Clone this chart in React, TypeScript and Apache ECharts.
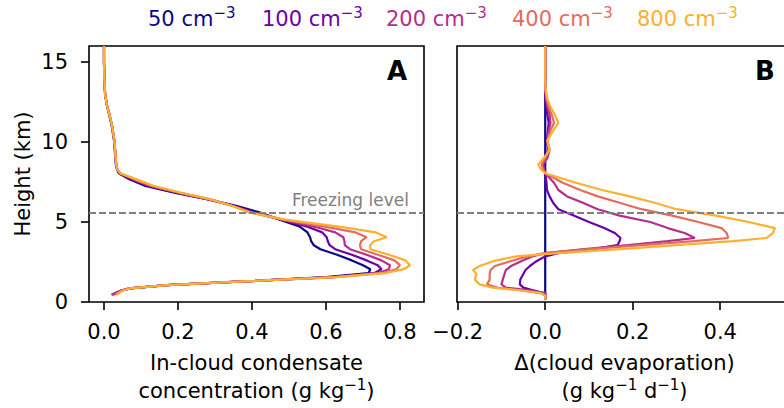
import React, { useEffect, useRef } from "react";
import * as echarts from "echarts";

// ---- Legend / series meta ----
const concentrations = ["50", "100", "200", "400", "800"];
const colors = ["#0d0887", "#6a00a8", "#b42e8d", "#e56b5d", "#fdb030"];

// ---- Panel A: in-cloud condensate (g/kg) vs height (km) ----
const heightsA = [16, 15, 14, 13, 12.3, 11.6, 11, 10.1, 9.2, 8.6, 8.3, 8.05, 7.65, 7.25, 6.8, 6.4, 6.0, 5.6,
  5.15, 4.7, 4.35, 4.05, 3.8, 3.55, 3.3, 2.95, 2.6, 2.3, 2.05, 1.8, 1.55, 1.3, 1.05, 0.85, 0.7, 0.55, 0.45];
const condensate50 = [0.0, 0.0, 0.001, 0.003, 0.008, 0.015, 0.021, 0.027, 0.030, 0.032, 0.035, 0.040, 0.070, 0.112, 0.196, 0.285, 0.36, 0.42,
  0.475, 0.53, 0.55, 0.557, 0.56, 0.567, 0.585, 0.63, 0.67, 0.70, 0.72, 0.715, 0.60, 0.39, 0.17, 0.07, 0.045, 0.03, 0.025];
const condensate100 = [0.0, 0.0, 0.001, 0.003, 0.008, 0.016, 0.022, 0.028, 0.031, 0.033, 0.036, 0.042, 0.076, 0.12, 0.202, 0.285, 0.352, 0.405,
  0.48, 0.55, 0.59, 0.602, 0.605, 0.61, 0.625, 0.67, 0.71, 0.74, 0.75, 0.73, 0.615, 0.39, 0.17, 0.07, 0.045, 0.03, 0.022];
const condensate200 = [0.0, 0.0, 0.001, 0.003, 0.008, 0.016, 0.022, 0.028, 0.031, 0.033, 0.036, 0.042, 0.08, 0.125, 0.206, 0.287, 0.35, 0.40,
  0.48, 0.57, 0.625, 0.647, 0.65, 0.651, 0.665, 0.71, 0.75, 0.773, 0.77, 0.74, 0.62, 0.39, 0.17, 0.068, 0.045, 0.03, 0.02];
const condensate400 = [0.0, 0.0, 0.001, 0.003, 0.008, 0.016, 0.022, 0.028, 0.031, 0.033, 0.036, 0.043, 0.085, 0.13, 0.21, 0.29, 0.348, 0.395,
  0.485, 0.60, 0.68, 0.71, 0.695, 0.692, 0.695, 0.74, 0.785, 0.80, 0.79, 0.75, 0.625, 0.39, 0.17, 0.07, 0.048, 0.035, 0.03];
const condensate800 = [0.0, 0.0, 0.001, 0.003, 0.008, 0.016, 0.022, 0.028, 0.031, 0.033, 0.036, 0.044, 0.09, 0.135, 0.215, 0.292, 0.347, 0.392,
  0.49, 0.64, 0.735, 0.764, 0.73, 0.719, 0.72, 0.77, 0.815, 0.827, 0.81, 0.76, 0.63, 0.39, 0.17, 0.07, 0.05, 0.04, 0.035];

// ---- Panel B: change in cloud evaporation (g/kg/d) vs height (km) ----
const heightsB = [16, 14, 13.3, 12.7, 12.2, 11.7, 11.2, 10.7, 10.1, 9.5, 9.0, 8.6, 8.3, 8.05, 7.45, 7.0, 6.6, 6.2, 5.8, 5.4,
  5.0, 4.62, 4.3, 4.0, 3.8, 3.55, 3.3, 3.05, 2.85, 2.55, 2.25, 2.0, 1.75, 1.4, 1.1, 0.9, 0.75, 0.55, 0.4, 0.15];
const evap50 = [0, 0, 0, 0, 0, 0, 0, 0, 0, 0, 0, 0, 0, 0, 0, 0, 0, 0, 0, 0,
  0, 0, 0, 0, 0, 0, 0, 0, 0, 0, 0, 0, 0, 0, 0, 0, 0, 0, 0, 0];
const evap100 = [0, 0, 0, 0, 0.002, 0.005, 0.008, 0.006, 0.004, 0.006, 0.002, -0.003, -0.002, 0, 0.003, 0.004, 0.01, 0.018, 0.03, 0.065,
  0.1, 0.135, 0.16, 0.172, 0.17, 0.165, 0.11, 0.03, 0.0, -0.02, -0.035, -0.045, -0.05, -0.057, -0.058, -0.05, -0.03, 0, 0, 0];
const evap200 = [0, 0, 0, 0.002, 0.005, 0.01, 0.012, 0.008, 0.005, 0.01, 0.005, -0.005, -0.003, 0, 0.02, 0.03, 0.05, 0.086, 0.12, 0.17,
  0.24, 0.28, 0.32, 0.342, 0.28, 0.19, 0.09, 0.0, -0.03, -0.055, -0.078, -0.09, -0.093, -0.097, -0.1, -0.09, -0.04, 0, 0, 0];
const evap400 = [0, 0, 0, 0.003, 0.008, 0.015, 0.02, 0.012, 0.005, 0.008, 0.0, -0.008, -0.005, 0, 0.04, 0.08, 0.12, 0.17, 0.22, 0.29,
  0.35, 0.403, 0.415, 0.418, 0.34, 0.22, 0.10, 0.0, -0.04, -0.08, -0.115, -0.125, -0.127, -0.127, -0.133, -0.11, -0.06, -0.01, 0, 0];
const evap800 = [0, 0, 0.001, 0.005, 0.012, 0.022, 0.03, 0.018, 0.005, 0.01, -0.003, -0.016, -0.01, 0.0, 0.07, 0.13, 0.193, 0.25, 0.30, 0.39,
  0.465, 0.525, 0.52, 0.506, 0.43, 0.30, 0.17, 0.03, -0.066, -0.119, -0.15, -0.165, -0.157, -0.161, -0.15, -0.12, -0.066, -0.009, 0, 0];

// ---- Axes ----
const xMinA = -0.0405;
const xMaxA = 0.865;
const xMinB = -0.2016;
const xMaxB = 0.564;
const xTicksA = [0, 0.2, 0.4, 0.6, 0.8];
const xTicksB = [-0.2, 0, 0.2, 0.4];
const yTicks = [0, 5, 10, 15];
const freezingLevel = 5.6;

const condensateSeries = [condensate50, condensate100, condensate200, condensate400, condensate800];
const evapSeries = [evap50, evap100, evap200, evap400, evap800];

const FONT = "DejaVu Sans";

function fmt(v: number) {
  return v < 0 ? "\u2212" + (-v).toFixed(1) : v.toFixed(1);
}

export default function App() {
  const ref = useRef<HTMLDivElement>(null);
  useEffect(() => {
    const chart = echarts.init(ref.current!, null, { renderer: "svg" });
    const sup = { s: { fontSize: 15, lineHeight: 15, verticalAlign: "top", fontFamily: FONT } };
    const tickStyle = { show: true, length: 8, lineStyle: { color: "#000", width: 1.6 } };
    const labelStyle = { color: "#000", fontSize: 21, fontFamily: FONT };
    const nameStyle = { color: "#000", fontSize: 21, fontFamily: FONT, lineHeight: 28, rich: sup };
    const freezingMark = {
      markLine: {
        silent: true,
        symbol: "none",
        label: { show: false },
        lineStyle: { color: "#808080", type: [7, 3], width: 2 },
        data: [{ yAxis: freezingLevel }],
      },
    };

    const seriesA = condensateSeries.map((vals, i) => ({
      type: "line",
      name: concentrations[i] + " cm-3",
      xAxisIndex: 0,
      yAxisIndex: 0,
      data: heightsA.map((h, k) => [vals[k], h]),
      symbol: "none",
      showSymbol: false,
      clip: true,
      lineStyle: { color: colors[i], width: 2.2 },
      itemStyle: { color: colors[i] },
      ...(i === 4 ? freezingMark : {}),
    }));
    const seriesB = evapSeries.map((vals, i) => ({
      type: "line",
      name: concentrations[i] + " cm-3 (B)",
      xAxisIndex: 1,
      yAxisIndex: 1,
      data: heightsB.map((h, k) => [vals[k], h]),
      symbol: "none",
      showSymbol: false,
      clip: true,
      lineStyle: { color: colors[i], width: 2.2 },
      itemStyle: { color: colors[i] },
      ...(i === 4 ? freezingMark : {}),
    }));

    const legendX = [148, 262, 386, 512, 637];
    const legendTexts = concentrations.map((c, i) => ({
      type: "text",
      x: legendX[i],
      y: 18.7,
      style: {
        text: `{a|${c} cm}{s|\u22123}`,
        fill: colors[i],
        fontSize: 21,
        fontFamily: FONT,
        verticalAlign: "middle",
        align: "left",
        rich: {
          a: { fontSize: 21, lineHeight: 26, fontFamily: FONT, fill: colors[i] },
          s: { fontSize: 15, lineHeight: 15, verticalAlign: "top", fontFamily: FONT, fill: colors[i] },
        },
      },
    }));

    const gridBase = {
      top: 46,
      width: 335,
      height: 256,
      show: true,
      borderColor: "#000",
      borderWidth: 1.6,
      backgroundColor: "transparent",
      containLabel: false,
      outerBoundsMode: "none",
    };

    chart.setOption({
      animation: false,
      backgroundColor: "#fff",
      grid: [
        { ...gridBase, left: 89 },
        { ...gridBase, left: 457 },
      ],
      xAxis: [
        {
          type: "value",
          gridIndex: 0,
          min: xMinA,
          max: xMaxA,
          axisLine: { show: false, onZero: false },
          splitLine: { show: false },
          axisTick: { ...tickStyle, customValues: xTicksA },
          axisLabel: { ...labelStyle, margin: 19, customValues: xTicksA, formatter: (v: number) => fmt(v) },
          name: "In-cloud condensate\nconcentration (g kg{s|\u22121})",
          nameLocation: "middle",
          nameGap: 47,
          nameTextStyle: nameStyle,
        },
        {
          type: "value",
          gridIndex: 1,
          min: xMinB,
          max: xMaxB,
          axisLine: { show: false, onZero: false },
          splitLine: { show: false },
          axisTick: { ...tickStyle, customValues: xTicksB },
          axisLabel: { ...labelStyle, margin: 19, customValues: xTicksB, formatter: (v: number) => fmt(v) },
          name: "\u0394(cloud evaporation)\n(g kg{s|\u22121} d{s|\u22121})",
          nameLocation: "middle",
          nameGap: 47,
          nameTextStyle: nameStyle,
        },
      ],
      yAxis: [
        {
          type: "value",
          gridIndex: 0,
          min: 0,
          max: 16,
          axisLine: { show: false, onZero: false },
          splitLine: { show: false },
          axisTick: { ...tickStyle, customValues: yTicks },
          axisLabel: { ...labelStyle, margin: 21, customValues: yTicks },
          name: "Height (km)",
          nameLocation: "middle",
          nameGap: 56,
          nameTextStyle: { color: "#000", fontSize: 21, fontFamily: FONT },
        },
        {
          type: "value",
          gridIndex: 1,
          min: 0,
          max: 16,
          axisLine: { show: false, onZero: false },
          splitLine: { show: false },
          axisTick: { show: false },
          axisLabel: { show: false },
        },
      ],
      series: [...seriesA, ...seriesB],
      graphic: [
        ...legendTexts,
        {
          type: "text",
          x: 409,
          y: 200,
          style: { text: "Freezing level", fill: "#808080", fontSize: 17, fontFamily: FONT, align: "right", verticalAlign: "middle" },
        },
        {
          type: "text",
          x: 397,
          y: 71,
          style: { text: "A", fill: "#000", fontSize: 26, fontWeight: "bold", fontFamily: FONT, align: "center", verticalAlign: "middle" },
        },
        {
          type: "text",
          x: 765,
          y: 71,
          style: { text: "B", fill: "#000", fontSize: 26, fontWeight: "bold", fontFamily: FONT, align: "center", verticalAlign: "middle" },
        },
      ],
    });
    return () => chart.dispose();
  }, []);
  return <div ref={ref} style={{ position: "fixed", left: 0, top: 0, width: 784, height: 408 }} />;
}
